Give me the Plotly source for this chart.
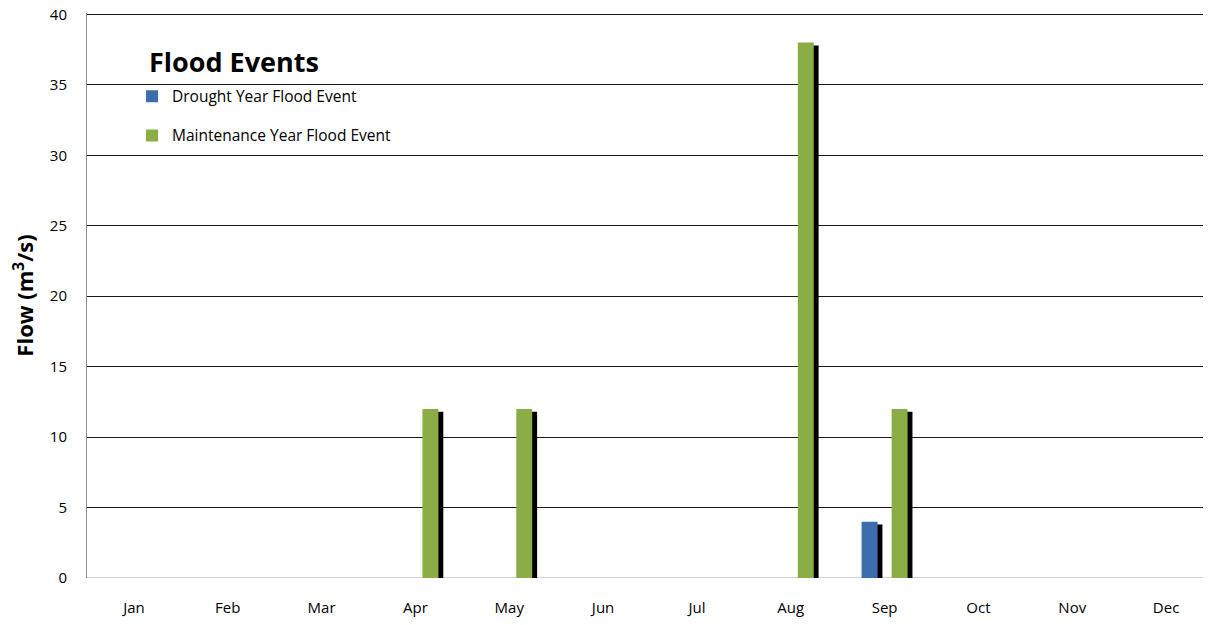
import plotly.graph_objects as go

months = ["Jan", "Feb", "Mar", "Apr", "May", "Jun", "Jul", "Aug", "Sep", "Oct", "Nov", "Dec"]
drought = [0, 0, 0, 0, 0, 0, 0, 0, 4, 0, 0, 0]
maintenance = [0, 0, 0, 12, 12, 0, 0, 38, 12, 0, 0, 0]

x_idx = list(range(len(months)))
FONT = "'Open Sans', Lato, sans-serif"

BAR_W = 0.17
SH_W = 0.19
SH_DX = 0.032
SH_DY = 0.2

fig = go.Figure()


def add_series(vals, name, color, offset):
    xs = [i for i, v in zip(x_idx, vals) if v > 0]
    ys = [v for v in vals if v > 0]
    # drop shadow
    fig.add_trace(go.Bar(
        x=xs, y=ys, base=[-SH_DY] * len(ys),
        offset=offset + SH_DX, width=SH_W,
        marker=dict(color="black", line=dict(width=0)),
        showlegend=False, hoverinfo="skip",
    ))
    fig.add_trace(go.Bar(
        x=xs, y=ys, name=name,
        offset=offset, width=BAR_W,
        marker=dict(color=color, line=dict(width=0)),
        legendgroup=name,
    ))


add_series(drought, "Drought Year Flood Event", "#3C6EAE", -0.245)
add_series(maintenance, "Maintenance Year Flood Event", "#8AAE45", 0.075)

fig.update_layout(
    width=1211, height=609,
    margin=dict(l=79, r=6, t=5, b=39, autoexpand=False),
    paper_bgcolor="white", plot_bgcolor="white",
    barmode="overlay",
    font=dict(family=FONT, size=15, color="black"),
    showlegend=True,
    legend=dict(
        x=0.040, y=0.882, xanchor="left", yanchor="top",
        bgcolor="rgba(0,0,0,0)",
        font=dict(size=15.5, family=FONT),
        tracegroupgap=16,
        itemwidth=30,
    ),
    xaxis=dict(
        range=[-0.5, 11.5],
        tickvals=x_idx, ticktext=months,
        showgrid=False, zeroline=False,
        showline=False, ticks="",
        automargin=False,
        ticklabelstandoff=19,
        tickfont=dict(size=15, family=FONT),
    ),
    yaxis=dict(
        range=[0, 40.1], tickvals=[0, 5, 10, 15, 20, 25, 30, 35, 40],
        showgrid=True, gridcolor="#1a1a1a", gridwidth=1,
        zeroline=False,
        showline=True, linecolor="#8c8c8c", linewidth=1,
        ticks="", ticklen=0,
        automargin=False,
        ticklabelstandoff=16,
        ticklabeloverflow="allow",
        tickfont=dict(size=15, family=FONT),
        title=dict(text="<b>Flow (m<sup>3</sup>/s)</b>", font=dict(size=22, family=FONT), standoff=14),
    ),
    annotations=[dict(
        text="<b>Flood Events</b>", xref="paper", yref="paper",
        x=0.053, y=0.915, xanchor="left", yanchor="middle",
        showarrow=False, font=dict(size=27, family=FONT, color="black"),
    )],
)

fig.add_hline(y=0, line=dict(color="#a6a6a6", width=1), layer="below")

fig.write_html("out.html")
